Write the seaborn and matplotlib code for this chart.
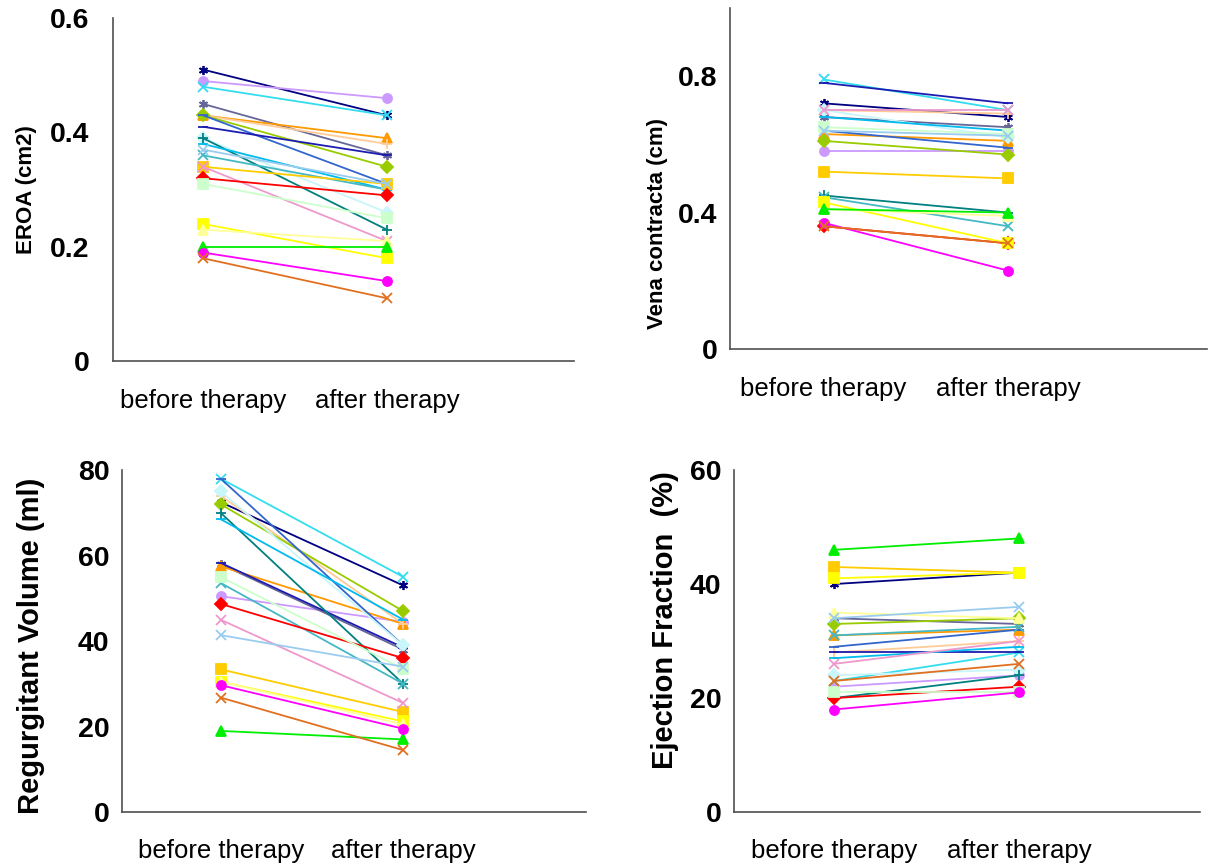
import pandas as pd
import seaborn as sns
import matplotlib.pyplot as plt

# patients: colour and marker stay the same in all four panels
patients = ["P1", "P2", "P3", "P4", "P5", "P6", "P7", "P8", "P9", "P10", "P11", "P12",
            "P13", "P14", "P15", "P16", "P17", "P18", "P19", "P20", "P21", "P22", "P23"]
colors = ["#000080", "#CC99FF", "#33DDEE", "#666699", "#FF9900", "#FFCC99", "#99CC00",
          "#3366CC", "#1C1CB0", "#C8F6FA", "#008080", "#00BBEE", "#44B8C4", "#FFCC00",
          "#EE99CC", "#FF0000", "#CCFFCC", "#FFFF00", "#FFFF99", "#00EE00", "#FF00FF",
          "#E07020", "#99CCEE"]
markers = [(6, 2, 0), "o", "x", (6, 2, 0), "^", "+", "D", "_", "_", "D", "+", "_",
           "x", "s", "x", "D", "s", "s", "^", "^", "o", "x", "x"]

phases = ["before therapy", "after therapy"]

eroa_before = [0.51, 0.49, 0.48, 0.45, 0.43, 0.43, 0.43, 0.43, 0.41, 0.39, 0.39, 0.38,
               0.36, 0.34, 0.34, 0.32, 0.31, 0.24, 0.23, 0.20, 0.19, 0.18, 0.37]
eroa_after = [0.43, 0.46, 0.43, 0.36, 0.39, 0.38, 0.34, 0.31, 0.36, 0.26, 0.23, 0.30,
              0.30, 0.31, 0.21, 0.29, 0.25, 0.18, 0.21, 0.20, 0.14, 0.11, 0.31]

vc_before = [0.72, 0.58, 0.79, 0.68, 0.63, 0.70, 0.61, 0.64, 0.78, 0.70, 0.45, 0.68,
             0.445, 0.52, 0.70, 0.36, 0.65, 0.43, 0.41, 0.41, 0.37, 0.36, 0.64]
vc_after = [0.68, 0.58, 0.70, 0.65, 0.61, 0.69, 0.57, 0.59, 0.72, 0.62, 0.40, 0.64,
            0.36, 0.50, 0.70, 0.31, 0.63, 0.31, 0.39, 0.40, 0.23, 0.31, 0.625]

rv_before = [72.5, 50.5, 78, 58, 57.5, 74, 72, 78, 58.3, 75, 70, 68.5,
             53.6, 33.4, 45, 48.7, 55, 30.5, 30.5, 19, 29.7, 26.8, 41.4]
rv_after = [53, 44.5, 55, 38, 44, 44, 47, 39, 38.5, 39, 30, 45,
            30, 23.4, 25.5, 36, 33.5, 21.2, 20.5, 17, 19.5, 14.5, 34]

ef_before = [40, 22, 23, 34, 31, 28, 33, 29, 28, 24, 20, 27,
             31, 43, 26, 20, 21, 41, 35, 46, 18, 23, 34]
ef_after = [42, 24, 28, 33, 32, 30, 34, 32, 28, 25, 24, 29,
            32.5, 42, 30, 22, 21, 42, 34, 48, 21, 26, 36]


def make_frame(before, after):
    rows = []
    for p, b, a in zip(patients, before, after):
        rows.append({"patient": p, "phase": 0, "value": b})
        rows.append({"patient": p, "phase": 1, "value": a})
    return pd.DataFrame(rows)


def draw_panel(ax, before, after, ylim, yticks, ylabels, ylabel, xlim,
               ypad, xpad, label_size, label_xy):
    df = make_frame(before, after)
    for p, c, m in zip(patients, colors, markers):
        sns.lineplot(data=df[df["patient"] == p], x="phase", y="value", ax=ax,
                     color=c, marker=m, markersize=6.5, mec=c, mfc=c, mew=1.3,
                     linewidth=1.3, legend=False)
    ax.set_xlim(*xlim)
    ax.set_ylim(*ylim)
    ax.set_yticks(yticks)
    ax.set_yticklabels(ylabels, fontsize=20.5, fontweight="bold")
    ax.set_xticks([0, 1])
    ax.set_xticklabels(phases, fontsize=18.5)
    ax.tick_params(axis="x", length=0, pad=xpad)
    ax.tick_params(axis="y", length=0, pad=ypad)
    ax.set_xlabel("")
    ax.set_ylabel(ylabel, fontsize=label_size, fontweight="bold")
    ax.yaxis.set_label_coords(*label_xy)
    for s in ["top", "right"]:
        ax.spines[s].set_visible(False)
    for s in ["left", "bottom"]:
        ax.spines[s].set_color("#505050")
        ax.spines[s].set_linewidth(1.2)


sns.set_style("white")
plt.rcParams["font.family"] = ["Liberation Sans", "DejaVu Sans"]
plt.rcParams["text.color"] = "black"
plt.rcParams["axes.labelcolor"] = "black"
plt.rcParams["xtick.color"] = "black"
plt.rcParams["ytick.color"] = "black"

fig = plt.figure(figsize=(12.08, 8.64), dpi=100)
ax1 = fig.add_axes([0.0935, 0.582, 0.382, 0.397])
ax2 = fig.add_axes([0.604, 0.596, 0.395, 0.395])
ax3 = fig.add_axes([0.101, 0.060, 0.384, 0.396])
ax4 = fig.add_axes([0.6076, 0.060, 0.386, 0.396])

draw_panel(ax1, eroa_before, eroa_after, (0, 0.6), [0, 0.2, 0.4, 0.6],
           ["0", "0.2", "0.4", "0.6"], "EROA (cm2)", (-0.49, 2.02),
           17, 20, 16, (-0.165, 0.5))
draw_panel(ax2, vc_before, vc_after, (0, 1.0), [0, 0.4, 0.8],
           ["0", "0.4", "0.8"], "Vena contracta (cm)", (-0.51, 2.08),
           9, 20, 16, (-0.13, 0.367))
draw_panel(ax3, rv_before, rv_after, (0, 80), [0, 20, 40, 60, 80],
           ["0", "20", "40", "60", "80"], "Regurgitant Volume (ml)", (-0.54, 2.0),
           9, 19, 21, (-0.166, 0.485))
draw_panel(ax4, ef_before, ef_after, (0, 60), [0, 20, 40, 60],
           ["0", "20", "40", "60"], "Ejection Fraction  (%)", (-0.54, 1.98),
           9, 19, 21, (-0.118, 0.561))

fig.savefig("out.png", dpi=100)
